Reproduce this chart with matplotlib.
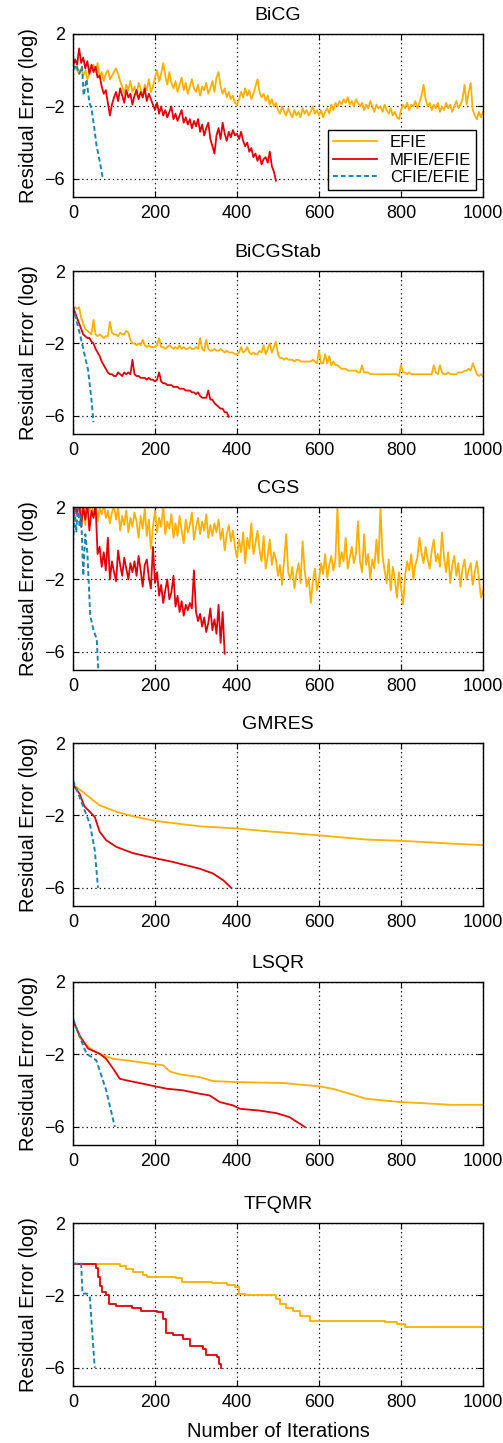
import numpy as np
import matplotlib
matplotlib.use("Agg")
import matplotlib.pyplot as plt

plt.rcParams['font.family'] = ['Liberation Sans', 'DejaVu Sans']

# colours of the three formulations
c_efie = '#FFB000'
c_mfie = '#E2000A'
c_cfie = '#1A86B0'

# ---------------- BiCG ----------------
bicg_efie_x = np.arange(0, 1001, 5)
bicg_efie = [
    0.1, 0.2, 0.0, -0.2, 0.1, -0.3, 0.0, -0.5, -0.2, 0.1,
    0.3, -0.1, 0.4, -0.4, -0.1, -0.6, -0.2, 0.0, -0.5, -0.3,
    -0.1, 0.1, -0.2, -0.6, -0.9, -1.3, -0.8, -1.1, -0.6, -1.2,
    -0.9, -1.4, -0.7, -1.0, -1.5, -0.8, -1.1, -0.5, -1.2, -0.9,
    -0.4, 0.0, -0.6, -0.2, 0.4, -0.3, -0.8, -0.1, -0.7, -1.0,
    -0.6, -1.2, -0.8, -0.4, -1.1, -0.7, -1.3, -0.9, -0.5, -1.0,
    -1.2, -0.8, -1.4, -0.9, -1.1, -0.7, -1.3, -1.0, -0.6, -1.2,
    -0.4, -0.1, -0.9, -1.3, -1.0, -1.5, -1.2, -1.6, -1.4, -1.8,
    -1.9, -1.6, -1.2, -1.5, -1.0, -1.4, -1.1, -1.6, -1.3, -0.9,
    -0.5, -1.2, -1.5, -1.3, -1.7, -1.4, -1.9, -1.6, -2.0, -1.8,
    -2.2, -2.4, -2.0, -2.3, -2.5, -2.1, -2.4, -2.6, -2.2, -2.5,
    -2.3, -2.6, -2.1, -2.4, -2.2, -2.5, -2.3, -2.0, -2.4, -2.2,
    -2.5, -2.2, -2.6, -2.3, -2.1, -2.4, -1.9, -2.2, -1.8, -2.0,
    -1.7, -1.9, -1.6, -1.8, -1.5, -1.9, -1.7, -2.0, -1.6, -1.8,
    -2.0, -1.8, -2.2, -1.9, -2.1, -1.7, -2.0, -2.3, -1.9, -2.1,
    -2.0, -2.3, -1.9, -2.2, -2.4, -2.1, -2.5, -2.3, -2.6, -2.7,
    -2.2, -1.9, -2.1, -1.8, -2.2, -1.9, -2.0, -1.7, -2.1, -1.8,
    -1.4, -0.8, -1.6, -2.0, -1.8, -2.2, -1.9, -2.1, -1.8, -2.3,
    -2.0, -2.2, -1.8, -2.1, -1.9, -2.3, -2.0, -1.7, -2.1, -1.9,
    -1.6, -0.8, -1.9, -1.2, -0.7, -2.2, -2.5, -2.7, -2.3, -2.6,
    -2.3,
]
bicg_mfie_x = np.arange(0, 496, 5)
bicg_mfie = [
    0.2, 0.6, 0.3, 1.2, 0.4, 0.7, 0.1, 0.5, -0.2, 0.3,
    -0.1, 0.2, -0.4, -0.3, -0.9, -1.3, -1.1, -1.8, -2.5, -1.9,
    -1.5, -1.2, -1.7, -1.0, -1.4, -1.8, -1.1, -1.5, -1.3, -1.9,
    -1.4, -1.1, -1.6, -1.2, -1.5, -1.0, -1.7, -1.3, -1.6, -1.9,
    -2.2, -1.8, -2.4, -2.0, -2.5, -2.2, -2.6, -2.3, -2.0, -2.7,
    -2.4, -2.8, -2.5, -2.2, -2.9, -2.6, -3.0, -2.7, -3.2, -2.8,
    -3.1, -2.7, -3.4, -3.0, -3.6, -3.2, -2.9, -3.8, -4.2, -4.6,
    -3.6, -3.2, -3.8, -2.9, -3.5, -3.9, -3.4, -3.7, -3.3, -3.6,
    -3.5, -3.8, -3.4, -3.9, -4.2, -4.0, -4.5, -4.3, -4.8, -4.6,
    -5.0, -4.7, -5.2, -4.9, -4.8, -5.1, -4.5, -5.3, -5.6, -6.1,
]
bicg_cfie_x = [0, 8, 15, 22, 26, 33, 40, 45, 52, 57, 65, 73]
bicg_cfie = [0.0, 0.3, -0.2, 0.2, -1.4, -0.5, -1.8, -2.1, -3.2, -4.1, -5.0, -6.0]

# ---------------- BiCGStab ----------------
bicgstab_efie_x = np.arange(0, 1001, 5)
bicgstab_efie = [
    0.0, 0.0, -0.1, 0.0, -0.6, -0.9, -1.2, -1.3, -1.4, -1.5,
    -0.7, -1.5, -1.6, -1.5, -1.6, -1.7, -1.6, -1.6, -0.8, -1.4,
    -1.5, -1.5, -1.6, -1.4, -1.5, -1.5, -1.3, -1.4, -1.8, -2.0,
    -2.0, -2.1, -2.0, -2.1, -1.8, -2.1, -2.2, -2.1, -2.2, -2.2,
    -2.2, -2.1, -1.7, -2.2, -2.2, -2.3, -2.2, -2.1, -2.2, -2.3,
    -2.2, -2.3, -2.1, -2.3, -2.2, -2.3, -2.3, -2.2, -2.3, -2.3,
    -2.2, -2.3, -1.7, -2.3, -2.4, -1.8, -2.3, -2.4, -2.4, -2.3,
    -2.4, -2.4, -2.3, -2.4, -2.5, -2.4, -2.5, -2.5, -2.5, -2.6,
    -2.6, -2.5, -2.2, -2.5, -2.4, -2.2, -2.5, -2.6, -2.5, -2.6,
    -2.6, -2.4, -2.5, -2.1, -2.6, -2.3, -2.0, -2.5, -2.2, -1.9,
    -2.6, -2.8, -2.8, -2.9, -2.8, -2.9, -2.9, -2.9, -3.0, -2.9,
    -2.9, -3.0, -3.0, -3.0, -3.0, -3.0, -3.0, -2.9, -3.0, -3.1,
    -2.4, -3.1, -3.1, -2.6, -3.1, -2.7, -3.2, -3.0, -3.2, -3.2,
    -3.3, -3.4, -3.4, -3.4, -3.5, -3.5, -3.5, -3.5, -3.5, -3.6,
    -3.6, -3.2, -3.6, -3.6, -3.6, -3.7, -3.7, -3.7, -3.7, -3.7,
    -3.7, -3.7, -3.7, -3.7, -3.7, -3.7, -3.7, -3.7, -3.7, -3.8,
    -3.2, -3.6, -3.6, -3.7, -3.6, -3.7, -3.7, -3.7, -3.7, -3.7,
    -3.7, -3.7, -3.7, -3.7, -3.7, -3.7, -3.2, -3.6, -3.7, -3.2,
    -3.6, -3.7, -3.7, -3.6, -3.7, -3.7, -3.7, -3.7, -3.6, -3.6,
    -3.6, -3.5, -3.5, -3.4, -3.5, -3.1, -3.4, -3.7, -3.8, -3.7,
    -3.8,
]
bicgstab_mfie_x = np.arange(0, 381, 5)
bicgstab_mfie = [
    0.05, -0.3, -0.6, -0.9, -1.2, -1.5, -1.6, -1.7, -1.7, -1.9,
    -2.0, -2.3, -2.5, -2.7, -3.0, -3.2, -3.4, -3.6, -3.7, -3.7,
    -3.8, -3.8, -3.6, -3.7, -3.8, -3.6, -3.7, -3.6, -3.7, -2.9,
    -3.7, -3.8, -3.8, -3.9, -3.9, -3.9, -4.0, -3.9, -4.0, -4.0,
    -4.1, -4.0, -3.6, -4.1, -4.2, -4.2, -4.3, -4.3, -4.3, -4.4,
    -4.4, -4.4, -4.5, -4.5, -4.5, -4.6, -4.6, -4.6, -4.7, -4.7,
    -4.8, -4.7, -4.9, -5.0, -5.0, -5.0, -4.6, -5.1, -5.1, -5.3,
    -5.4, -5.5, -5.6, -5.6, -5.8, -5.8, -6.05,
]
bicgstab_cfie_x = [0, 8, 17, 29, 37, 45, 50]
bicgstab_cfie = [0.05, -0.7, -1.5, -2.7, -3.5, -5.1, -6.35]

# ---------------- CGS ----------------
cgs_efie_x = np.arange(0, 1001, 5)
cgs_efie = [
    0.8, 2.4, 1.6, 2.5, 1.4, 2.3, 1.0, 2.6, 1.8, 2.2,
    1.5, 2.4, 1.2, 1.9, 1.6, 2.2, 1.4, 1.8, 1.1, 1.7,
    2.1, 1.3, 2.0, 0.7, 1.5, 1.0, 1.8, 0.6, 1.4, 0.9,
    1.7, 1.2, 0.3, 1.5, 0.8, 1.9, 0.4, 1.3, -0.3, 0.9,
    1.8, 0.6, 1.4, 0.9, 2.1, 0.5, 1.2, 0.8, 1.6, 0.3,
    1.1, 0.4, 1.5, 0.7, 0.0, 1.3, 0.6, 1.0, 1.7, 0.2,
    0.9, 1.4, 0.5, 1.2, 0.7, 1.6, 0.3, 1.0, 0.4, 1.1,
    0.6, 1.3, 0.2, 0.8, -0.4, 0.5, 1.0, 0.1, 0.7, -0.2,
    -0.8, 0.2, -0.5, 0.6, -1.1, 0.3, -0.3, 1.1, -0.6, 0.0,
    0.7, -0.4, -1.0, 0.4, -1.4, -0.7, 0.2, -1.2, -0.5, -0.9,
    -1.8, -1.2, -2.3, -0.9, 0.5, -1.6, -2.0, -1.3, -2.5, -1.7,
    -1.1, -2.2, 0.1, -1.5, -2.4, -1.9, -3.3, -2.1, -1.4, -2.6,
    -2.0, -1.1, -1.7, -0.6, -1.9, -1.2, -0.7, -1.5, -0.9, 2.0,
    -1.3, -0.5, -1.0, 0.3, -1.4, -0.8, -0.2, -1.1, -0.6, 1.2,
    -1.0, -1.6, 0.5, -1.2, -0.6, -2.0, -0.9, -1.4, 0.2, -1.1,
    2.0, -0.7, -1.5, -2.2, -0.9, -2.6, -1.3, -2.0, -3.0, -1.6,
    -2.4, -3.4, -1.8, -1.0, -1.5, -0.6, -2.0, -1.2, -0.8, 0.3,
    -0.5, -1.1, -0.2, -0.9, -1.4, -0.4, 0.2, -1.0, -0.6, -1.3,
    0.6, -0.8, -1.6, -0.5, -2.2, -1.2, -0.7, -1.8, -1.1, -2.4,
    -1.4, -0.9, -2.0, -1.5, -1.1, -2.3, -1.6, -1.0, -1.9, -3.0,
    -2.6,
]
cgs_mfie_x = np.arange(0, 371, 5)
cgs_mfie = [
    1.1, 2.3, 1.6, 2.4, 0.9, 2.0, 1.3, 2.2, 0.7, 1.8,
    1.4, 2.1, -0.6, -0.2, -1.3, -0.5, -1.5, 0.3, -2.0, -1.0,
    -1.6, -2.1, -0.4, -1.2, -1.8, -0.8, -1.4, -2.0, -1.1, -1.6,
    -1.0, -1.8, -0.7, -1.5, -2.4, -1.2, -0.9, -1.9, -2.5, -0.2,
    -2.2, -1.6, -2.9, -2.3, -3.3, -2.6, -2.0, -3.1, -2.7, -1.8,
    -3.5, -2.9, -3.8, -3.2, -4.0, -3.4, -3.7, -3.3, -3.6, -1.5,
    -3.8, -4.3, -3.9, -4.6, -4.1, -4.9, -4.4, -3.6, -4.8, -4.2,
    -5.0, -3.4, -5.5, -3.8, -6.1,
]
cgs_cfie_x = [0, 4, 8, 12, 16, 20, 25, 30, 35, 42, 50, 58, 62]
cgs_cfie = [0.0, 1.8, 0.6, 2.2, 0.9, 1.5, -1.8, 0.5, -0.5, -4.0, -4.8, -5.3, -7.2]

# ---------------- GMRES ----------------
gmres_efie_x = [0, 24, 49, 65, 106, 146, 200, 309, 400, 472, 600, 715, 800, 919, 1000]
gmres_efie = [-0.3, -0.7, -1.16, -1.44, -1.8, -2.04, -2.3, -2.6, -2.72, -2.87, -3.1, -3.33, -3.4, -3.55, -3.64]
gmres_mfie_x = [0, 16, 28, 41, 53, 65, 81, 106, 146, 200, 244, 309, 341, 366, 386]
gmres_mfie = [-0.3, -0.8, -1.5, -1.8, -2.08, -2.9, -3.37, -3.74, -4.08, -4.36, -4.57, -4.94, -5.2, -5.57, -6.0]
gmres_cfie_x = [0, 16, 33, 41, 53, 61]
gmres_cfie = [-0.06, -0.98, -1.99, -2.45, -3.9, -6.0]

# ---------------- LSQR ----------------
lsqr_efie_x = [0, 16, 33, 49, 65, 98, 146, 179, 220, 236, 260, 309, 341, 390, 512, 600, 634, 675, 715, 800, 878, 919, 1000]
lsqr_efie = [-0.03, -1.04, -1.5, -1.78, -1.96, -2.24, -2.37, -2.48, -2.6, -2.94, -3.1, -3.25, -3.47, -3.52, -3.58, -3.76, -3.9, -4.17, -4.45, -4.63, -4.72, -4.78, -4.78]
lsqr_mfie_x = [0, 16, 37, 65, 81, 98, 114, 130, 163, 200, 228, 268, 309, 333, 358, 390, 407, 455, 496, 528, 565]
lsqr_mfie = [-0.12, -0.95, -1.68, -1.96, -2.24, -2.79, -3.34, -3.43, -3.58, -3.76, -3.89, -3.98, -4.17, -4.26, -4.63, -4.81, -5.0, -5.1, -5.24, -5.46, -6.0]
lsqr_cfie_x = [0, 20, 33, 57, 81, 102]
lsqr_cfie = [-0.03, -1.22, -1.96, -2.33, -3.98, -6.0]

# ---------------- TFQMR ----------------
tfqmr_efie_x = [0, 115, 130, 146, 171, 180, 250, 265, 340, 375, 395, 405, 420, 495, 505, 520, 537, 553, 578, 760, 790, 810, 1000]
tfqmr_efie = [-0.24, -0.4, -0.55, -0.7, -0.85, -0.98, -1.05, -1.26, -1.31, -1.44, -1.55, -1.9, -1.98, -2.2, -2.45, -2.7, -2.85, -3.15, -3.4, -3.47, -3.55, -3.73, -3.79]
tfqmr_mfie_x = [0, 55, 60, 65, 70, 80, 88, 105, 145, 165, 205, 220, 228, 245, 268, 285, 317, 325, 350, 355, 362]
tfqmr_mfie = [-0.24, -0.5, -1.0, -1.5, -1.8, -2.0, -2.45, -2.6, -2.72, -2.87, -2.92, -3.3, -4.1, -4.2, -4.38, -4.8, -4.93, -5.3, -5.4, -5.76, -6.03]
tfqmr_cfie_x = [0, 20, 23, 34, 41, 53]
tfqmr_cfie = [-0.24, -0.24, -1.9, -1.9, -2.1, -6.0]

panels = [
    ('BiCG', (bicg_efie_x, bicg_efie), (bicg_mfie_x, bicg_mfie), (bicg_cfie_x, bicg_cfie), 'default'),
    ('BiCGStab', (bicgstab_efie_x, bicgstab_efie), (bicgstab_mfie_x, bicgstab_mfie), (bicgstab_cfie_x, bicgstab_cfie), 'default'),
    ('CGS', (cgs_efie_x, cgs_efie), (cgs_mfie_x, cgs_mfie), (cgs_cfie_x, cgs_cfie), 'default'),
    ('GMRES', (gmres_efie_x, gmres_efie), (gmres_mfie_x, gmres_mfie), (gmres_cfie_x, gmres_cfie), 'default'),
    ('LSQR', (lsqr_efie_x, lsqr_efie), (lsqr_mfie_x, lsqr_mfie), (lsqr_cfie_x, lsqr_cfie), 'default'),
    ('TFQMR', (tfqmr_efie_x, tfqmr_efie), (tfqmr_mfie_x, tfqmr_mfie), (tfqmr_cfie_x, tfqmr_cfie), 'steps-post'),
]

W, H = 503, 1443
fig = plt.figure(figsize=(W / 100, H / 100), dpi=100)

tops = [34, 271, 507, 743, 982, 1223]   # pixel rows of the axes tops
ax_h = 163
ax_l, ax_w = 73, 410

for i, (name, efie, mfie, cfie, ds) in enumerate(panels):
    top = tops[i]
    ax = fig.add_axes([ax_l / W, 1 - (top + ax_h) / H, ax_w / W, ax_h / H])
    ax.plot(efie[0], efie[1], color=c_efie, lw=1.3, drawstyle=ds, label='EFIE')
    ax.plot(mfie[0], mfie[1], color=c_mfie, lw=1.3, drawstyle=ds, label='MFIE/EFIE')
    ax.plot(cfie[0], cfie[1], color=c_cfie, lw=1.4, ls=(0, (2.5, 1.5)), label='CFIE/EFIE')

    ax.set_xlim(0, 1000)
    ax.set_ylim(-7, 2)
    ax.set_xticks([0, 200, 400, 600, 800, 1000])
    ax.set_yticks([2, -2, -6])
    ax.grid(True, color='black', ls=(0, (1, 2.5)), lw=0.9)
    ax.tick_params(direction='in', length=4, top=True, right=True, labelsize=13, pad=6)
    for s in ax.spines.values():
        s.set_linewidth(1.0)
    ax.set_title(name, fontsize=14, pad=10)
    ax.set_ylabel('Residual Error (log)', fontsize=14.5, labelpad=4)

    if i == 0:
        leg = ax.legend(loc='lower right', fontsize=12, frameon=True, fancybox=False,
                        edgecolor='black', framealpha=1, borderaxespad=0.4,
                        handlelength=2.6, labelspacing=0.15, borderpad=0.3)
        leg.get_frame().set_linewidth(1.0)
    if i == len(panels) - 1:
        ax.set_xlabel('Number of Iterations', fontsize=14.5, labelpad=8)

fig.savefig('out.png', dpi=100)
